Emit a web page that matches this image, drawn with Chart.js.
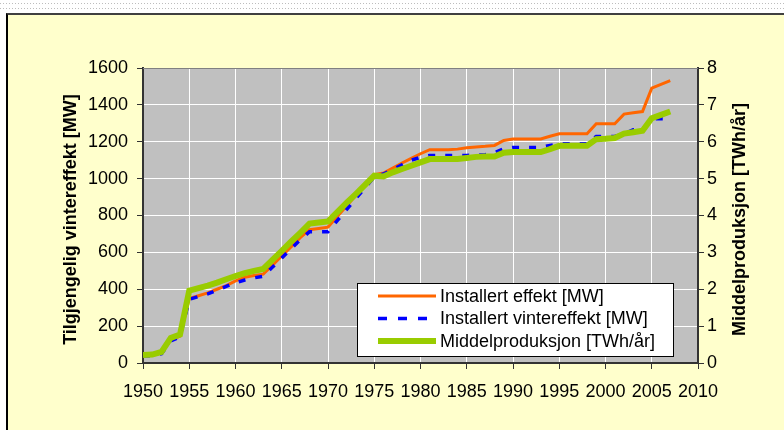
<!DOCTYPE html>
<html>
<head>
<meta charset="utf-8">
<script src="https://cdn.jsdelivr.net/npm/chart.js@4"></script>
<style>
  html, body { margin: 0; padding: 0; background: #fff; }
  body { width: 784px; height: 430px; position: relative; overflow: hidden; }
  .dots { position: absolute; left: 0; width: 784px; height: 1px;
    background-image: repeating-linear-gradient(90deg, #bdbdbd 0 1px, #fff 1px 3px); }
  #panel { position: absolute; left: 6px; top: 13px; width: 800px; height: 430px;
    background: #ffffcc; border-left: 2px solid #000; border-top: 2px solid #404040; }
  #chart { position: absolute; left: 0; top: 0; }
</style>
</head>
<body>
<div class="dots" style="top:3px"></div>
<div class="dots" style="top:8px"></div>
<div id="panel"></div>
<canvas id="chart" width="784" height="430"></canvas>
<script>
const years = [];
for (let y = 1950; y <= 2007; y++) years.push(y);

// Installert effekt [MW]
const installertEffekt = [
  40, 42, 55, 125, 145, 350, 365, 380, 400, 420,
  445, 465, 475, 482, 530, 580, 630, 680, 723, 730,
  737, 794, 851, 908, 965, 1022, 1030, 1057, 1085, 1110,
  1135, 1157, 1157, 1157, 1160, 1167, 1172, 1175, 1180, 1207,
  1215, 1215, 1215, 1215, 1230, 1243, 1243, 1243, 1243, 1298,
  1298, 1298, 1350, 1357, 1364, 1491, 1511, 1531
];

// Installert vintereffekt [MW]
const vintereffekt = [
  38, 40, 50, 120, 140, 345, 360, 375, 395, 415,
  435, 450, 462, 470, 520, 570, 620, 668, 712, 712,
  712, 772, 832, 891, 950, 1010, 1025, 1050, 1075, 1100,
  1115, 1126, 1126, 1126, 1126, 1126, 1128, 1130, 1140, 1162,
  1169, 1169, 1169, 1169, 1180, 1189, 1189, 1189, 1189, 1229,
  1229, 1229, 1243, 1265, 1265, 1325, 1325, 1325
];

// Middelproduksjon [TWh/år]
const middelproduksjon = [
  0.22, 0.23, 0.30, 0.68, 0.77, 1.96, 2.03, 2.10, 2.18, 2.27,
  2.36, 2.44, 2.50, 2.55, 2.80, 3.04, 3.29, 3.53, 3.78, 3.81,
  3.84, 4.09, 4.34, 4.58, 4.83, 5.08, 5.06, 5.17, 5.26, 5.35,
  5.44, 5.53, 5.53, 5.53, 5.53, 5.56, 5.59, 5.60, 5.60, 5.70,
  5.72, 5.72, 5.72, 5.72, 5.80, 5.89, 5.89, 5.89, 5.89, 6.07,
  6.08, 6.10, 6.22, 6.26, 6.30, 6.64, 6.73, 6.82
];

const xTicks = [1950, 1955, 1960, 1965, 1970, 1975, 1980, 1985, 1990, 1995, 2000, 2005, 2010];
const mwTicks = [0, 200, 400, 600, 800, 1000, 1200, 1400, 1600];
const twhTicks = [0, 1, 2, 3, 4, 5, 6, 7, 8];

const leftTitle = 'Tilgjengelig vintereffekt [MW]';
const rightTitle = 'Middelproduksjon [TWh/år]';

const FONT = '"Liberation Sans", Arial, sans-serif';

const toPoints = vals => vals.map((v, i) => ({ x: years[i], y: v }));

const datasets = [
  { label: 'Installert effekt [MW]', data: toPoints(installertEffekt), yAxisID: 'y',
    borderColor: '#ff6600', borderWidth: 3, order: 2 },
  { label: 'Installert vintereffekt [MW]', data: toPoints(vintereffekt), yAxisID: 'y',
    borderColor: '#0000ff', borderWidth: 3.5, borderDash: [7, 10], order: 1 },
  { label: 'Middelproduksjon [TWh/år]', data: toPoints(middelproduksjon), yAxisID: 'y1',
    borderColor: '#99cc00', borderWidth: 6, order: 0 }
];

const plotBackground = {
  id: 'plotBackground',
  beforeDraw(chart) {
    const { ctx, chartArea: a } = chart;
    ctx.save();
    ctx.fillStyle = '#c0c0c0';
    ctx.fillRect(a.left, a.top, a.right - a.left, a.bottom - a.top);
    ctx.restore();
  }
};

// legend box and both axis titles (Excel rotates both titles the same way)
const extras = {
  id: 'extras',
  afterDraw(chart) {
    const { ctx, chartArea: a } = chart;
    ctx.save();
    ctx.strokeStyle = '#808080';
    ctx.lineWidth = 1;
    ctx.beginPath();
    ctx.moveTo(a.left, a.top + 0.5);
    ctx.lineTo(a.right, a.top + 0.5);
    ctx.stroke();

    const midY = (a.top + a.bottom) / 2 + 4;
    ctx.fillStyle = '#000';
    ctx.font = 'bold 18px ' + FONT;
    ctx.textAlign = 'center';
    ctx.textBaseline = 'middle';
    [[71, leftTitle], [740, rightTitle]].forEach(([x, t]) => {
      ctx.save();
      ctx.translate(x, midY);
      ctx.rotate(-Math.PI / 2);
      ctx.fillText(t, 0, 0);
      ctx.restore();
    });

    // legend
    const bx = a.right - 341, by = a.bottom - 80, bw = 316, bh = 73;
    ctx.fillStyle = '#fff';
    ctx.fillRect(bx, by, bw, bh);
    ctx.strokeStyle = '#000';
    ctx.strokeRect(bx + 0.5, by + 0.5, bw, bh);
    ctx.font = '18px ' + FONT;
    ctx.textAlign = 'left';
    datasets.forEach((ds, i) => {
      const yy = by + 13 + i * 22.5;
      ctx.strokeStyle = ds.borderColor;
      ctx.lineWidth = ds.borderWidth;
      ctx.setLineDash(ds.borderDash ? [9, 11] : []);
      ctx.beginPath();
      ctx.moveTo(bx + 21, yy);
      ctx.lineTo(bx + 79, yy);
      ctx.stroke();
      ctx.setLineDash([]);
      ctx.fillStyle = '#000';
      ctx.fillText(ds.label, bx + 83, yy + 1);
    });
    ctx.restore();
  }
};

new Chart(document.getElementById('chart'), {
  type: 'line',
  data: { datasets },
  options: {
    responsive: false,
    animation: false,
    devicePixelRatio: 1,
    layout: { padding: { top: 68, left: 0, right: 0, bottom: 0 } },
    elements: { point: { radius: 0 }, line: { tension: 0 } },
    plugins: { legend: { display: false }, tooltip: { enabled: false } },
    scales: {
      x: {
        type: 'linear', min: 1950, max: 2010,
        afterFit: s => { s.height = 67; },
        afterBuildTicks: s => { s.ticks = xTicks.map(v => ({ value: v })); },
        grid: { color: '#ffffff', lineWidth: 1, tickColor: '#333', tickLength: 6 },
        border: { color: '#333', width: 2 },
        ticks: { color: '#000', font: { family: FONT, size: 18 }, padding: 12,
          maxRotation: 0, autoSkip: false, callback: v => String(v) }
      },
      y: {
        position: 'left', min: 0, max: 1600,
        afterFit: s => { s.width = 143; },
        afterBuildTicks: s => { s.ticks = mwTicks.map(v => ({ value: v })); },
        grid: { color: '#ffffff', lineWidth: 1, tickColor: '#333', tickLength: 6 },
        border: { color: '#333', width: 2 },
        ticks: { color: '#000', font: { family: FONT, size: 18 }, padding: 9,
          callback: v => String(v) }
      },
      y1: {
        position: 'right', min: 0, max: 8,
        afterFit: s => { s.width = 86; },
        afterBuildTicks: s => { s.ticks = twhTicks.map(v => ({ value: v })); },
        grid: { drawOnChartArea: false, tickColor: '#333', tickLength: 6 },
        border: { color: '#333', width: 2 },
        ticks: { color: '#000', font: { family: FONT, size: 18 }, padding: 3,
          callback: v => String(v) }
      }
    }
  },
  plugins: [plotBackground, extras]
});
</script>
</body>
</html>
